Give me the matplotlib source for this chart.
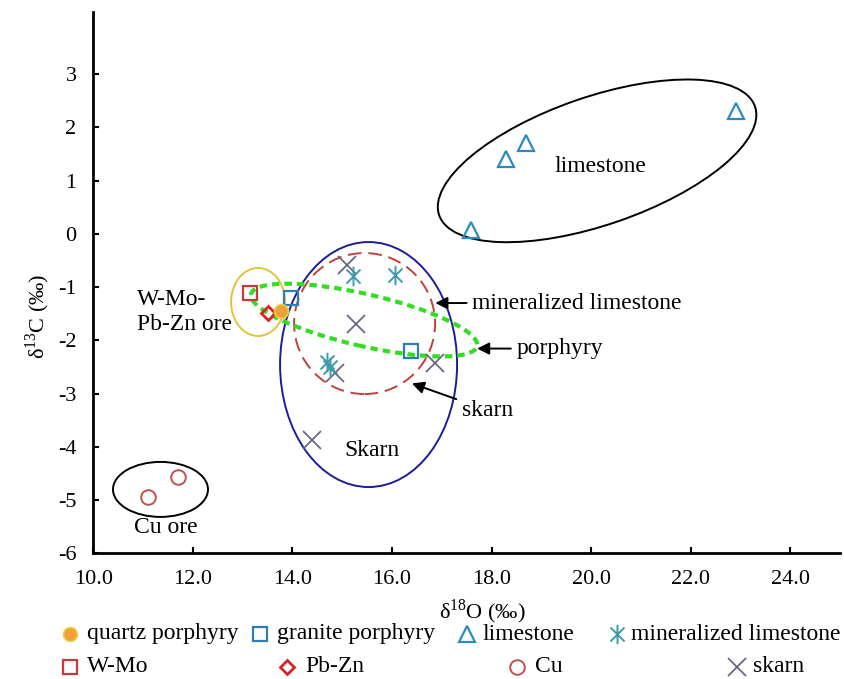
import numpy as np
import matplotlib
matplotlib.use("Agg")
import matplotlib.pyplot as plt
import matplotlib.transforms as mtransforms
from matplotlib.patches import Ellipse
from matplotlib.path import Path
from matplotlib.lines import Line2D

plt.rcParams['font.family'] = ['Liberation Serif', 'DejaVu Serif']
plt.rcParams['mathtext.fontset'] = 'custom'
plt.rcParams['mathtext.rm'] = 'Liberation Serif'
plt.rcParams['axes.unicode_minus'] = False

# --- donnees (d18O, d13C) ---
quartz_x = [13.77]
quartz_y = [-1.45]
granite_x = [13.97, 16.39]
granite_y = [-1.20, -2.20]
limestone_x = [17.59, 18.29, 18.69, 22.91]
limestone_y = [0.08, 1.40, 1.70, 2.31]
minlime_x = [15.21, 16.06, 14.70, 14.76]
minlime_y = [-0.79, -0.77, -2.40, -2.50]
wmo_x = [13.15]
wmo_y = [-1.11]
pbzn_x = [13.50]
pbzn_y = [-1.48]
cu_x = [11.09, 11.71]
cu_y = [-4.94, -4.56]
skarn_x = [15.09, 15.28, 14.86, 16.87, 14.39]
skarn_y = [-0.59, -1.69, -2.62, -2.42, -3.87]

x_ticks = [10, 12, 14, 16, 18, 20, 22, 24]
y_ticks = [-6, -5, -4, -3, -2, -1, 0, 1, 2, 3]

# asterisque a 6 branches (mineralized limestone)
star6 = Path([(0, -1), (0, 1), (-0.72, -0.72), (0.72, 0.72), (-0.72, 0.72), (0.72, -0.72)],
             [Path.MOVETO, Path.LINETO, Path.MOVETO, Path.LINETO, Path.MOVETO, Path.LINETO])

styles = {
    "quartz porphyry": dict(marker='o', ms=10, mfc='#F4A03A', mec='#E6D24A', mew=1.2),
    "granite porphyry": dict(marker='s', ms=10, mfc='none', mec='#2E7DB5', mew=1.6),
    "limestone": dict(marker='^', ms=11, mfc='none', mec='#2C8BBE', mew=1.6),
    "mineralized limestone": dict(marker=star6, ms=14, mfc='none', mec='#3D9BAA', mew=1.4),
    "W-Mo": dict(marker='s', ms=10, mfc='none', mec='#C8383C', mew=1.6),
    "Pb-Zn": dict(marker='D', ms=7.5, mfc='none', mec='#D62424', mew=2),
    "Cu": dict(marker='o', ms=10.5, mfc='none', mec='#C0504D', mew=1.4),
    "skarn": dict(marker='x', ms=13, mfc='none', mec='#6A6686', mew=1.3),
}

fig = plt.figure(figsize=(8.45, 6.79), dpi=100)
ax = fig.add_axes([0.1104, 0.1851, 0.8837, 0.7976])
ax.set_xlim(10, 25)
ax.set_ylim(-6, 4.17)

# enveloppes (centre en donnees, taille en pouces, angle)
def envelope(cx, cy, w, h, ang, **kw):
    tr = fig.dpi_scale_trans + mtransforms.ScaledTranslation(cx, cy, ax.transData)
    ax.add_patch(Ellipse((0, 0), w, h, angle=ang, transform=tr, fill=False, **kw))

envelope(20.12, 1.37, 3.34, 1.28, 19, ec='black', lw=1.4)
envelope(15.53, -2.455, 1.77, 2.45, 0, ec='#1C1C9C', lw=1.4)
envelope(15.45, -1.685, 1.41, 1.41, 0, ec='#C0403A', lw=1.4, ls=(0, (7, 3.5)))
envelope(13.31, -1.28, 0.54, 0.68, 0, ec='#E2C43C', lw=1.4)
envelope(15.44, -1.62, 2.32, 0.52, -13, ec='#33DD22', lw=3, ls=(0, (1.8, 1.2)))
envelope(11.35, -4.80, 0.95, 0.55, 0, ec='black', lw=1.4)

series = [
    ("skarn", skarn_x, skarn_y),
    ("mineralized limestone", minlime_x, minlime_y),
    ("limestone", limestone_x, limestone_y),
    ("granite porphyry", granite_x, granite_y),
    ("W-Mo", wmo_x, wmo_y),
    ("Pb-Zn", pbzn_x, pbzn_y),
    ("Cu", cu_x, cu_y),
    ("quartz porphyry", quartz_x, quartz_y),
]
for name, xs, ys in series:
    ax.plot(xs, ys, ls='none', **styles[name])

# etiquettes dans le graphe
fs = 17
ax.text(20.19, 1.27, "limestone", fontsize=fs, ha='center', va='center')
ax.text(15.59, -4.06, "Skarn", fontsize=fs, ha='center', va='center')
ax.text(11.46, -5.52, "Cu ore", fontsize=fs, ha='center', va='center')
ax.text(10.88, -1.24, "W-Mo-", fontsize=fs, ha='left', va='center')
ax.text(10.88, -1.71, "Pb-Zn ore", fontsize=fs, ha='left', va='center')

arrow = dict(arrowstyle='-|>', color='black', lw=1.4, mutation_scale=18, shrinkA=2, shrinkB=0)
ax.annotate("mineralized limestone", xy=(16.87, -1.30), xytext=(17.61, -1.30),
            fontsize=fs, ha='left', va='center', arrowprops=arrow)
ax.annotate("porphyry", xy=(17.71, -2.155), xytext=(18.50, -2.155),
            fontsize=fs, ha='left', va='center', arrowprops=arrow)
ax.annotate("skarn", xy=(16.40, -2.81), xytext=(17.40, -3.31),
            fontsize=fs, ha='left', va='center', arrowprops=arrow)

# axes
for s in ['top', 'right']:
    ax.spines[s].set_visible(False)
for s in ['left', 'bottom']:
    ax.spines[s].set_linewidth(2)
ax.set_xticks(x_ticks)
ax.set_xticklabels(["%.1f" % v for v in x_ticks])
ax.set_yticks(y_ticks)
ax.tick_params(direction='in', length=4.5, width=1.5, labelsize=16)
ax.tick_params(axis='x', pad=12)
ax.tick_params(axis='y', pad=12)

fig.text(482 / 845, 1 - 612 / 679, r"δ$^{\mathrm{18}}$O (‰)", fontsize=16, ha='center', va='center')
fig.text(38 / 845, 1 - 316 / 679, r"δ$^{\mathrm{13}}$C (‰)", fontsize=16, ha='center', va='center',
         rotation=90)

# legende manuelle (deux lignes)
leg_rows = [
    [("quartz porphyry", 70, 87), ("granite porphyry", 260, 277),
     ("limestone", 467, 482), ("mineralized limestone", 617, 631)],
    [("W-Mo", 70, 87), ("Pb-Zn", 287, 305), ("Cu", 517, 535), ("skarn", 737, 753)],
]
leg_y = [634, 667]
for row, ypx in zip(leg_rows, leg_y):
    yf = 1 - ypx / 679
    for name, mx, tx in row:
        fig.add_artist(Line2D([mx / 845], [yf], transform=fig.transFigure, ls='none', **styles[name]))
        fig.text(tx / 845, yf, name, fontsize=fs, ha='left', va='center')

fig.savefig("out.png", dpi=100)
